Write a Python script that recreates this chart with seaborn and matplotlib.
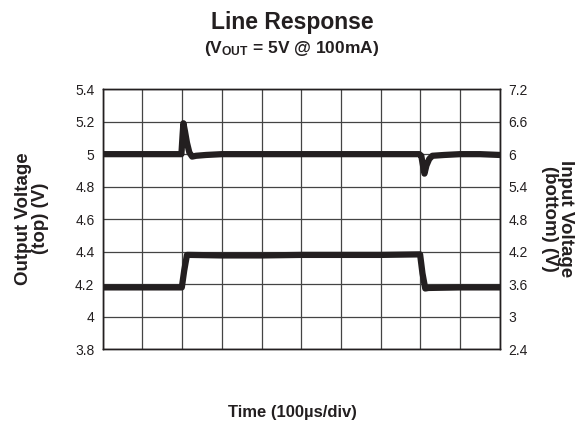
import matplotlib
matplotlib.use("Agg")
import matplotlib.pyplot as plt
import seaborn as sns
import pandas as pd

# output voltage trace (left axis, V), time in divisions
t_out = [0, 0.5, 1.0, 1.5, 1.98, 2.01, 2.03, 2.07, 2.12, 2.18, 2.25, 2.35, 2.6, 3.0, 3.5, 4.0,
         4.5, 5.0, 5.5, 6.0, 6.5, 7.0, 7.5, 7.97, 8.02, 8.07, 8.1, 8.15, 8.22, 8.3, 8.6, 9.0, 9.5, 10]
v_out = [5.0, 5.0, 5.0, 5.0, 5.0, 5.12, 5.19, 5.14, 5.07, 5.01, 4.985, 4.99, 4.995, 5.0, 5.0, 5.0,
         5.0, 5.0, 5.0, 5.0, 5.0, 5.0, 5.0, 5.0, 4.99, 4.92, 4.88, 4.93, 4.97, 4.99, 4.995, 5.0, 5.0, 4.995]

# input voltage trace (right axis, V)
t_in = [0, 1.0, 1.99, 2.05, 2.12, 2.2, 3.0, 4.0, 5.0, 6.0, 7.0, 7.99, 8.05, 8.12, 8.2, 9.0, 10]
v_in = [3.54, 3.54, 3.54, 3.85, 4.14, 4.14, 4.13, 4.13, 4.14, 4.14, 4.14, 4.15, 3.8, 3.52, 3.53, 3.54, 3.54]

left_ticks = [3.8, 4.0, 4.2, 4.4, 4.6, 4.8, 5.0, 5.2, 5.4]
left_labels = ["3.8", "4", "4.2", "4.4", "4.6", "4.8", "5", "5.2", "5.4"]
right_ticks = [2.4, 3.0, 3.6, 4.2, 4.8, 5.4, 6.0, 6.6, 7.2]
right_labels = ["2.4", "3", "3.6", "4.2", "4.8", "5.4", "6", "6.6", "7.2"]

sns.set_theme(style="white")
plt.rcParams["font.family"] = ["Liberation Sans", "DejaVu Sans"]
plt.rcParams["mathtext.fontset"] = "custom"
plt.rcParams["mathtext.rm"] = "Liberation Sans:bold"
plt.rcParams["mathtext.default"] = "rm"

fig = plt.figure(figsize=(5.84, 4.37), dpi=100)
ax = fig.add_axes([0.176, 0.201, 0.68, 0.595])
ax2 = ax.twinx()

df_out = pd.DataFrame({"t": t_out, "v": v_out})
df_in = pd.DataFrame({"t": t_in, "v": v_in})
sns.lineplot(data=df_out, x="t", y="v", ax=ax, color="#231f20", linewidth=4.5, zorder=3)
sns.lineplot(data=df_in, x="t", y="v", ax=ax2, color="#231f20", linewidth=4.5, zorder=3)

ax.set_xlim(0, 10)
ax.set_ylim(3.8, 5.4)
ax2.set_ylim(2.4, 7.2)
ax.set_xticks(range(11))
ax.set_xticklabels([])
ax.set_yticks(left_ticks)
ax.set_yticklabels(left_labels)
ax2.set_yticks(right_ticks)
ax2.set_yticklabels(right_labels)
ax.grid(True, color="#444444", linewidth=0.9)
ax.tick_params(length=0, labelsize=10, colors="#231f20", pad=6)
ax2.tick_params(length=0, labelsize=10, colors="#231f20", pad=6)
ax.set_xlabel("")
ax.set_ylabel("")
ax2.set_ylabel("")
for a in (ax, ax2):
    for s in a.spines.values():
        s.set_color("#231f20")
        s.set_linewidth(1.0)

fig.text(0.5, 0.948, "Line Response", ha="center", va="center", fontsize=16.5, fontweight="bold", color="#231f20")
fig.text(0.5, 0.888, "(V$_{OUT}$ = 5V @ 100mA)", ha="center", va="center", fontsize=12.5, fontweight="bold", color="#231f20")
fig.text(0.055, 0.5, "Output Voltage\n(top) (V)", ha="center", va="center", rotation=90,
         fontsize=13.5, fontweight="bold", color="#231f20", linespacing=0.95)
fig.text(0.955, 0.5, "Input Voltage\n(bottom) (V)", ha="center", va="center", rotation=270,
         fontsize=13.5, fontweight="bold", color="#231f20", linespacing=0.95)
fig.text(0.5, 0.055, "Time (100µs/div)", ha="center", va="center", fontsize=12, fontweight="bold", color="#231f20")

fig.savefig("out.png", dpi=100)
